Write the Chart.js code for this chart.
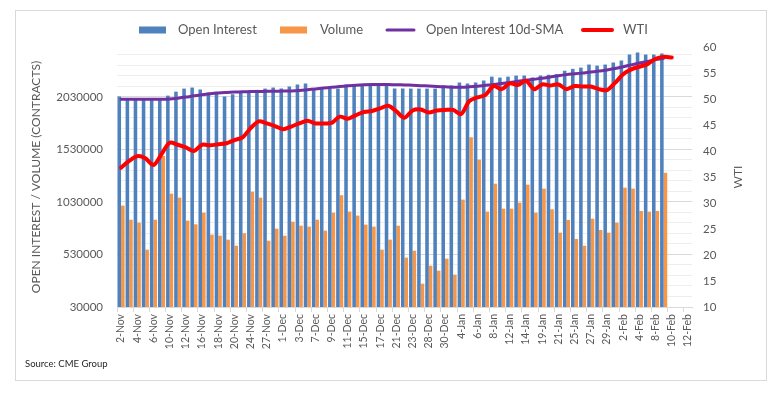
<!DOCTYPE html>
<html>
<head>
<meta charset="utf-8">
<title>Open Interest / Volume vs WTI</title>
<script src="https://cdn.jsdelivr.net/npm/chart.js@4.4.1/dist/chart.umd.min.js"></script>
<style>
  html, body { margin: 0; padding: 0; background: #fff; }
  #wrap { width: 777px; height: 394px; }
</style>
</head>
<body>
<div id="wrap"><canvas id="oiChart" width="777" height="394"></canvas></div>
<script>
const dates = [
    '2-Nov', '3-Nov', '4-Nov', '5-Nov', '6-Nov', '9-Nov', '10-Nov', '11-Nov', '12-Nov', '13-Nov',
    '16-Nov', '17-Nov', '18-Nov', '19-Nov', '20-Nov', '23-Nov', '24-Nov', '25-Nov', '27-Nov', '30-Nov',
    '1-Dec', '2-Dec', '3-Dec', '4-Dec', '7-Dec', '8-Dec', '9-Dec', '10-Dec', '11-Dec', '14-Dec',
    '15-Dec', '16-Dec', '17-Dec', '18-Dec', '21-Dec', '22-Dec', '23-Dec', '24-Dec', '28-Dec', '29-Dec',
    '30-Dec', '31-Dec', '4-Jan', '5-Jan', '6-Jan', '7-Jan', '8-Jan', '11-Jan', '12-Jan', '13-Jan',
    '14-Jan', '15-Jan', '19-Jan', '20-Jan', '21-Jan', '22-Jan', '25-Jan', '26-Jan', '27-Jan', '28-Jan',
    '29-Jan', '1-Feb', '2-Feb', '3-Feb', '4-Feb', '5-Feb', '8-Feb', '9-Feb', '10-Feb', '11-Feb',
    '12-Feb'
];

const openInterest = [
    2033000, 2005000, 2000000, 2000000, 2003000, 2015000, 2042000, 2080000, 2109000, 2119000,
    2100000, 2071000, 2080000, 2033000, 2056000, 2071000, 2080000, 2097000, 2109000, 2119000,
    2109000, 2128000, 2147000, 2157000, 2109000, 2119000, 2109000, 2109000, 2147000, 2147000,
    2147000, 2147000, 2138000, 2138000, 2109000, 2109000, 2109000, 2109000, 2109000, 2109000,
    2138000, 2138000, 2166000, 2157000, 2166000, 2185000, 2223000, 2214000, 2223000, 2233000,
    2233000, 2214000, 2233000, 2242000, 2246000, 2278000, 2297000, 2309000, 2338000, 2328000,
    2338000, 2357000, 2376000, 2433000, 2452000, 2433000, 2433000, 2442000
];

const volume = [
    995000, 861000, 833000, 576000, 861000, 1468000, 1109000, 1071000, 852000, 817000,
    928000, 719000, 709000, 671000, 614000, 732000, 1128000, 1071000, 661000, 776000,
    709000, 842000, 804000, 795000, 861000, 757000, 928000, 1094000, 938000, 900000,
    814000, 795000, 576000, 671000, 804000, 500000, 566000, 252000, 423000, 376000,
    490000, 338000, 1052000, 1646000, 1433000, 938000, 1204000, 966000, 966000, 1023000,
    1195000, 928000, 1157000, 960000, 738000, 859000, 678000, 614000, 871000, 763000,
    738000, 833000, 1166000, 1157000, 944000, 938000, 944000, 1309000
];

const oiSma10 = [
    2008000, 2008000, 2008000, 2008000, 2008000, 2008000, 2010000, 2018000, 2028000, 2040000,
    2051000, 2060000, 2067000, 2072000, 2076000, 2079000, 2081000, 2082000, 2083000, 2084000,
    2085000, 2087000, 2091000, 2098000, 2106000, 2114000, 2121000, 2128000, 2135000, 2141000,
    2145000, 2147000, 2147000, 2147000, 2146000, 2144000, 2141000, 2137000, 2133000, 2129000,
    2126000, 2123000, 2122000, 2126000, 2132000, 2140000, 2148000, 2157000, 2167000, 2178000,
    2188000, 2198000, 2208000, 2220000, 2232000, 2242000, 2250000, 2258000, 2266000, 2276000,
    2287000, 2300000, 2317000, 2335000, 2352000, 2368000, 2385000, 2398000
];

const wti = [
    36.8, 38.1, 39.0, 38.6, 37.3, 39.4, 41.6, 41.2, 40.7, 40.0,
    41.2, 41.1, 41.3, 41.5, 42.1, 42.6, 44.4, 45.7, 45.3, 44.8,
    44.2, 44.7, 45.3, 45.8, 45.3, 45.3, 45.4, 46.6, 46.2, 46.9,
    47.5, 47.7, 48.2, 48.7, 47.6, 46.4, 47.8, 48.0, 47.4, 47.8,
    47.9, 47.9, 47.1, 49.6, 50.3, 50.8, 52.5, 51.9, 53.0, 52.7,
    53.5, 51.9, 52.8, 52.6, 52.8, 51.9, 52.5, 52.4, 52.4, 51.9,
    51.7, 53.1, 54.75, 55.7, 56.2, 56.7, 57.75, 58.1, 58.0
];

// left axis: labelled every 500000, light grid every 100000
const leftTickLabels = [30000, 530000, 1030000, 1530000, 2030000];
const leftMin = 30000, leftMax = 2505000, leftMinorStep = 100000;

const FONT = 'Lato, "Liberation Sans", sans-serif';
const GREY = '#595959';
Chart.defaults.font.family = FONT;
Chart.defaults.color = GREY;

// frame, legend, WTI title and source line, drawn like the Excel original
const excelDecor = {
    id: 'excelDecor',
    beforeDraw(chart) {
        const ctx = chart.ctx;
        ctx.save();
        ctx.strokeStyle = '#d9d9d9';
        ctx.lineWidth = 1;
        ctx.strokeRect(15.5, 10.5, 751, 370);
        ctx.restore();
    },
    afterDraw(chart) {
        const ctx = chart.ctx;
        const slots = [[139, 27], [280, 27], [386, 29], [582, 31]];
        const textGap = [12, 13, 11, 10];
        ctx.save();
        ctx.font = '13px ' + FONT;
        ctx.textBaseline = 'middle';
        ctx.fillStyle = GREY;
        chart.data.datasets.forEach((ds, i) => {
            const [x, w] = slots[i];
            if (ds.type === 'line') {
                ctx.strokeStyle = ds.borderColor;
                ctx.lineWidth = ds.borderWidth;
                ctx.lineCap = 'round';
                ctx.beginPath();
                ctx.moveTo(x + 1, 30);
                ctx.lineTo(x + w - 1, 30);
                ctx.stroke();
            } else {
                ctx.fillStyle = ds.backgroundColor;
                ctx.fillRect(x, 26.5, w, 7);
            }
            ctx.fillStyle = GREY;
            ctx.fillText(ds.label, x + w + textGap[i], 30);
        });

        // right axis title, reads bottom to top
        ctx.font = '12px ' + FONT;
        ctx.textAlign = 'center';
        ctx.translate(738, 177);
        ctx.rotate(-Math.PI / 2);
        ctx.fillText('WTI', 0, 0);
        ctx.restore();

        ctx.save();
        ctx.font = '9.5px ' + FONT;
        ctx.fillStyle = '#262626';
        ctx.textBaseline = 'middle';
        ctx.fillText('Source: CME Group', 25, 364);
        ctx.restore();
    }
};

document.addEventListener('DOMContentLoaded', () => {
    const ctx = document.getElementById('oiChart').getContext('2d');
    const oiChart = new Chart(ctx, {
        type: 'bar',
        data: {
            labels: dates,
            datasets: [{
                type: 'bar',
                label: 'Open Interest',
                data: openInterest,
                yAxisID: 'y',
                backgroundColor: '#4f81bd',
                categoryPercentage: 0.88,
                barPercentage: 1.0,
                order: 3
            }, {
                type: 'bar',
                label: 'Volume',
                data: volume,
                yAxisID: 'y',
                backgroundColor: '#f79646',
                categoryPercentage: 0.88,
                barPercentage: 1.0,
                order: 4
            }, {
                type: 'line',
                label: 'Open Interest 10d-SMA',
                data: oiSma10,
                yAxisID: 'y',
                borderColor: '#7030a0',
                backgroundColor: '#7030a0',
                borderWidth: 3,
                pointRadius: 0,
                tension: 0.4,
                borderCapStyle: 'round',
                order: 2
            }, {
                type: 'line',
                label: 'WTI',
                data: wti,
                yAxisID: 'y1',
                borderColor: '#ff0000',
                backgroundColor: '#ff0000',
                borderWidth: 4,
                pointRadius: 0,
                tension: 0.3,
                borderCapStyle: 'round',
                borderJoinStyle: 'round',
                order: 1
            }]
        },
        options: {
            responsive: false,
            animation: false,
            devicePixelRatio: 1,
            layout: {
                padding: { top: 47, left: 25, right: 0, bottom: 0 }
            },
            plugins: {
                legend: { display: false },
                tooltip: { enabled: false }
            },
            scales: {
                x: {
                    offset: true,
                    afterFit: (scale) => { scale.height = 87; },
                    grid: {
                        offset: true,
                        drawOnChartArea: false,
                        tickLength: 5,
                        color: (c) => (c.index % 2 === 0 || c.index === dates.length) ? '#d9d9d9' : 'rgba(0,0,0,0)'
                    },
                    border: { color: '#d9d9d9' },
                    ticks: {
                        autoSkip: false,
                        minRotation: 90,
                        maxRotation: 90,
                        padding: 2,
                        font: { size: 10.5 },
                        color: GREY,
                        callback: function (val, i) {
                            return i % 2 === 0 ? this.getLabelForValue(val) : '';
                        }
                    }
                },
                y: {
                    position: 'left',
                    min: leftMin,
                    max: leftMax,
                    afterFit: (scale) => { scale.width = 92; },
                    afterBuildTicks: (scale) => {
                        const t = [];
                        for (let v = leftMin; v <= leftMax; v += leftMinorStep) t.push({ value: v });
                        scale.ticks = t;
                    },
                    border: { display: false },
                    grid: {
                        drawTicks: false,
                        color: (c) => leftTickLabels.includes(c.tick.value) ? '#d9d9d9' : '#eeeeee'
                    },
                    ticks: {
                        autoSkip: false,
                        padding: 14,
                        font: { size: 11.5 },
                        color: GREY,
                        callback: (v) => leftTickLabels.includes(v) ? String(v) : ''
                    },
                    title: {
                        display: true,
                        text: 'OPEN INTEREST / VOLUME (CONTRACTS)',
                        color: GREY,
                        font: { size: 12 },
                        padding: { top: 4, bottom: 4 }
                    }
                },
                y1: {
                    position: 'right',
                    min: 10,
                    max: 60,
                    afterFit: (scale) => { scale.width = 85; },
                    border: { display: false },
                    grid: { display: false, drawTicks: false },
                    ticks: {
                        stepSize: 5,
                        padding: 11,
                        font: { size: 11.5 },
                        color: GREY
                    }
                }
            }
        },
        plugins: [excelDecor]
    });
});
</script>
</body>
</html>
